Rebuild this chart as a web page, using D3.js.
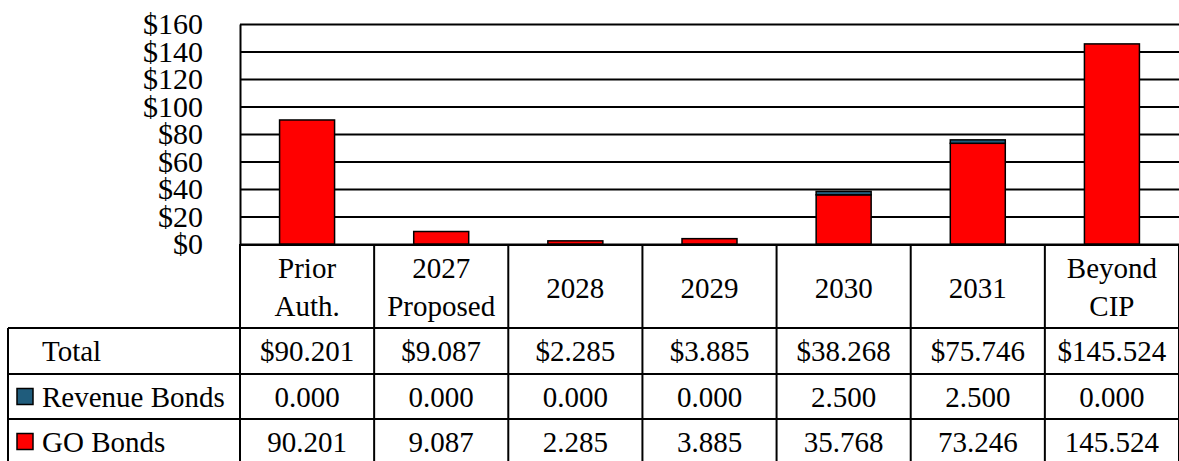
<!DOCTYPE html>
<html>
<head>
<meta charset="utf-8">
<script src="https://cdn.jsdelivr.net/npm/d3@7"></script>
<style>
  body { margin: 0; background: #fff; }
  svg { display: block; font-family: "Liberation Serif", "Times New Roman", serif; }
</style>
</head>
<body>
<svg id="chart" width="1179" height="461"></svg>
<script>
// chart data
const categories = ["Prior Auth.", "2027 Proposed", "2028", "2029", "2030", "2031", "Beyond CIP"];
const categoryLines = [["Prior", "Auth."], ["2027", "Proposed"], ["2028"], ["2029"], ["2030"], ["2031"], ["Beyond", "CIP"]];
const revenueBonds = [0.000, 0.000, 0.000, 0.000, 2.500, 2.500, 0.000];
const goBonds = [90.201, 9.087, 2.285, 3.885, 35.768, 73.246, 145.524];
const totals = [90.201, 9.087, 2.285, 3.885, 38.268, 75.746, 145.524];
const yTicks = [0, 20, 40, 60, 80, 100, 120, 140, 160];

const svg = d3.select("#chart");
const plotLeft = 240, plotRight = 1179, plotTop = 24, plotBottom = 244;

let x = d3.scaleBand()
  .domain(categories)
  .range([plotLeft, plotRight])
  .paddingInner(0.59)
  .paddingOuter(0.295);

let y = d3.scaleLinear()
  .domain([0, 160])
  .range([plotBottom, plotTop]);

// gridlines + tick labels
let yAxis = d3.axisLeft(y)
  .tickValues(yTicks)
  .tickSizeInner(-(plotRight - plotLeft))
  .tickSizeOuter(0)
  .tickPadding(37)
  .tickFormat(d => "$" + d);

let ga = svg.append("g")
  .attr("transform", `translate(${plotLeft},0)`)
  .call(yAxis);
ga.selectAll("line").attr("stroke", "#000").attr("stroke-width", 2);
ga.select(".domain").attr("stroke", "#000").attr("stroke-width", 2);
ga.selectAll("text")
  .attr("fill", "#000")
  .style("font-family", "Liberation Serif")
  .style("font-size", "30px");

// stacked bars
let rows = categories.map((c, i) => ({cat: c, go: goBonds[i], rev: revenueBonds[i]}));
let stack = d3.stack().keys(["go", "rev"])(rows);
let colors = {go: "#ff0000", rev: "#1f5c7c"};

svg.append("g")
  .selectAll("g")
  .data(stack)
  .enter()
  .append("g")
  .attr("fill", d => colors[d.key])
  .selectAll("rect")
  .data(d => d.filter(p => p[1] - p[0] > 0))
  .enter()
  .append("rect")
  .attr("x", d => x(d.data.cat))
  .attr("width", x.bandwidth())
  .attr("y", d => y(d[1]))
  .attr("height", d => y(d[0]) - y(d[1]))
  .attr("stroke", "#000")
  .attr("stroke-width", 1.5);

// data table
const step = x.step();
const colCenter = c => x(c) + x.bandwidth() / 2;
const headTop = 245, rowLines = [328, 374, 419, 464];
const tableLeft = 8;
let table = svg.append("g");

// horizontal lines
table.append("line").attr("x1", plotLeft).attr("x2", plotRight).attr("y1", headTop).attr("y2", headTop);
rowLines.slice(0, 3).forEach(yy => {
  table.append("line").attr("x1", tableLeft).attr("x2", plotRight).attr("y1", yy).attr("y2", yy);
});
// vertical lines
table.append("line").attr("x1", tableLeft).attr("x2", tableLeft).attr("y1", rowLines[0]).attr("y2", 461);
categories.forEach(c => {
  let xl = colCenter(c) - step / 2;
  table.append("line").attr("x1", xl).attr("x2", xl).attr("y1", plotBottom).attr("y2", 461);
});
table.append("line").attr("x1", plotRight).attr("x2", plotRight).attr("y1", plotBottom).attr("y2", 461);
table.selectAll("line").attr("stroke", "#000").attr("stroke-width", 2);

// header labels
categories.forEach((c, i) => {
  let lines = categoryLines[i];
  let t = table.append("text")
    .attr("text-anchor", "middle")
    .attr("font-size", 29)
    .attr("fill", "#000");
  if (lines.length == 1) {
    t.append("tspan").attr("x", colCenter(c)).attr("y", 298).text(lines[0]);
  } else {
    t.append("tspan").attr("x", colCenter(c)).attr("y", 278).text(lines[0]);
    t.append("tspan").attr("x", colCenter(c)).attr("y", 316).text(lines[1]);
  }
});

// row labels and values
const tableRows = [
  {label: "Total", color: null, values: totals.map(v => "$" + v.toFixed(3))},
  {label: "Revenue Bonds", color: colors.rev, values: revenueBonds.map(v => v.toFixed(3))},
  {label: "GO Bonds", color: colors.go, values: goBonds.map(v => v.toFixed(3))}
];

tableRows.forEach((r, i) => {
  let mid = (rowLines[i] + rowLines[i + 1]) / 2;
  if (r.color) {
    table.append("rect")
      .attr("x", 17).attr("y", mid - 8)
      .attr("width", 16).attr("height", 16)
      .attr("fill", r.color)
      .attr("stroke", "#000")
      .attr("stroke-width", 1.5);
  }
  table.append("text")
    .attr("x", 42).attr("y", mid + 10)
    .attr("font-size", 29)
    .attr("fill", "#000")
    .text(r.label);
  categories.forEach((c, j) => {
    table.append("text")
      .attr("x", colCenter(c)).attr("y", mid + 10)
      .attr("text-anchor", "middle")
      .attr("font-size", 29)
      .attr("fill", "#000")
      .text(r.values[j]);
  });
});
</script>
</body>
</html>
